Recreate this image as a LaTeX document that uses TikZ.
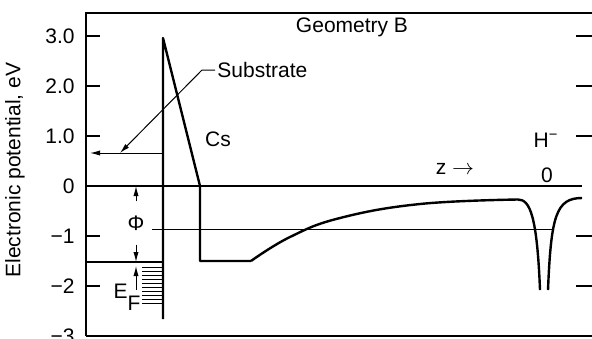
\documentclass[tikz,border=0pt]{standalone}
\usepackage{fontspec}
\setmainfont{Liberation Sans}
\usetikzlibrary{arrows.meta}

\begin{document}
\begin{tikzpicture}[x=0.5pt,y=25pt,
  frame/.style={draw=black,line width=0.9pt},
  pot/.style={draw=black,line width=1.2pt,line join=round},
  thinline/.style={draw=black,line width=0.5pt},
  tickmark/.style={draw=black,line width=0.7pt},
  lab/.style={font=\fontsize{10.5}{12}\selectfont,inner sep=1pt},
  arr/.style={-{Latex[length=5pt,width=2.6pt]},draw=black,line width=0.5pt}]
  \useasboundingbox (0,-3.04) rectangle (592,3.72);
  % frame and zero line
  \draw[frame] (86,-3.0) -- (86,3.46) -- (592,3.46);
  \draw[frame] (86,-3.0) -- (592,-3.0);
  \draw[frame] (86,0) -- (582,0);
  \foreach \v in {3,2,1,-1,-2} {
    \draw[tickmark] (86,\v) -- (100,\v);
    \draw[tickmark] (576,\v) -- (592,\v);
  }
  \foreach \v/\t [count=\i] in {3/3.0,2/2.0,1/1.0,0/0,-1/−1,-2/−2,-3/−3}
    \node[lab,anchor=east] (tk\i) at (77,\v) {\t};
  \node[lab,rotate=90] (ylab) at (15,0.32) {Electronic potential, eV};
  % substrate and Cs layer
  \draw[pot] (163,-2.66) -- (163,2.96) -- (200,0) -- (200,-1.5) -- (251,-1.5);
  \draw[pot] plot[smooth,tension=0.7] coordinates {(251,-1.5) (290,-1.02)
    (340,-0.64) (420,-0.36) (518,-0.27)}
    .. controls (530,-0.27) and (537,-0.6) .. (540,-2.08);
  \draw[pot] (548,-2.08) .. controls (551,-0.6) and (556,-0.24) .. (582,-0.24);
  % Fermi level
  \draw[pot] (86,-1.52) -- (163,-1.52);
  \foreach \yy in {-1.62,-1.70,...,-2.35}
    \draw[thinline] (142,\yy) -- (163,\yy);
  \draw[thinline] (152,-0.86) -- (552,-0.86);
  % work function
  \coordinate (z0) at (136,0);
  \coordinate (ef) at (136,-1.52);
  \coordinate (efb) at (136,-2.08);
  \node[lab,inner ysep=7pt] (phi) at (136,-0.74) {Φ};
  \draw[arr] (phi.north) -- (z0);
  \draw[arr] (phi.south) -- (ef);
  \draw[arr,shorten >=2pt] (efb) -- (ef);
  \node[lab] (efl) at (127,-2.22) {E\raisebox{-1.1ex}{F}};
  % substrate label
  \coordinate (wf) at (163,0.66);
  \coordinate (wftip) at (90,0.66);
  \coordinate (wfmid) at (120,0.66);
  \draw[arr] (wf) -- (wftip);
  \node[lab,anchor=west] (sub) at (215,2.32) {Substrate};
  \draw[arr] (sub.west) -- ++(-13,0) -- (wfmid);
  % other labels
  \node[lab] (geo) at (352,3.18) {Geometry B};
  \node[lab] (cs) at (218,0.94) {Cs};
  \node[lab] (hion) at (546,0.92) {H\textsuperscript{−}};
  \node[lab] (zax) at (455,0.34) {z $\rightarrow$};
  \node[lab] (zero) at (547,0.22) {0};
\end{tikzpicture}
\end{document}
